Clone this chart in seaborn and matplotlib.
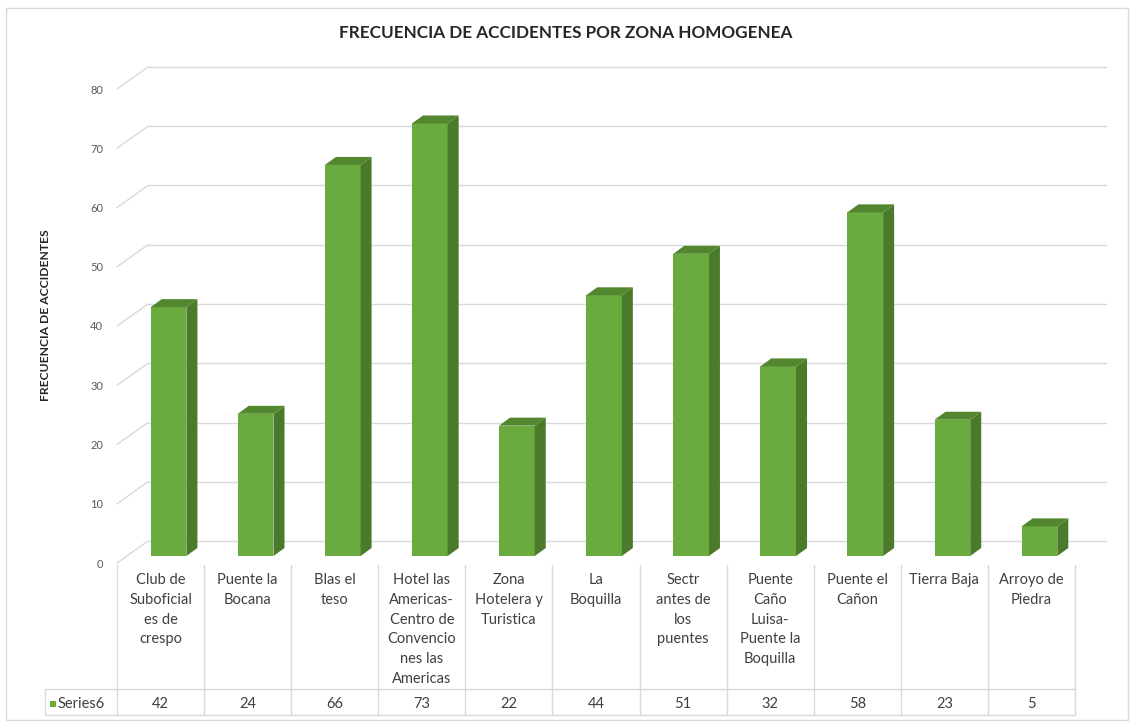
import matplotlib
matplotlib.use("Agg")
import matplotlib.pyplot as plt
import matplotlib.transforms as mtransforms
from matplotlib.patches import Polygon, Rectangle
import numpy as np
import seaborn as sns

# data
categories = ["Club de\nSuboficial\nes de\ncrespo", "Puente la\nBocana", "Blas el\nteso",
              "Hotel las\nAmericas-\nCentro de\nConvencio\nnes las\nAmericas",
              "Zona\nHotelera y\nTuristica", "La\nBoquilla", "Sectr\nantes de\nlos\npuentes",
              "Puente\nCaño\nLuisa-\nPuente la\nBoquilla", "Puente el\nCañon", "Tierra Baja",
              "Arroyo de\nPiedra"]
values = [42, 24, 66, 73, 22, 44, 51, 32, 58, 23, 5]
series_name = "Series6"
yticks = list(range(0, 90, 10))

front_c = "#6aab3f"
side_c = "#4a7a2a"
top_c = "#53872f"
grid_c = "#d9d9d9"
text_c = "#404040"

sns.set_style("white")
plt.rcParams['font.family'] = ['Lato', 'DejaVu Sans']

W, H = 1132, 723
fig = plt.figure(figsize=(W / 100, H / 100), dpi=100)
y0, y80 = 563, 89           # pixel rows of 0 and 80
x_left, x_right = 117, 1075  # table / category span
ax = fig.add_axes([x_left / W, 1 - y0 / H, (x_right - x_left) / W, (y0 - y80) / H])

sns.barplot(x=categories, y=values, color=front_c, saturation=1, width=0.41,
            ax=ax, zorder=3, linewidth=0)
ax.set_xlim(-0.5, 10.5)
ax.set_ylim(0, 80)
sns.despine(ax=ax, left=True, bottom=True)

px_x = (x_right - x_left) / 11
px_y = (y0 - y80) / 80

# 3D look: shift bars back into the box and add side / top faces
shift = ax.transData + mtransforms.ScaledTranslation(8 / 100, 7 / 100, fig.dpi_scale_trans)
ddx, ddy = 11 / px_x, 8 / px_y
for p in list(ax.patches):
    p.set_transform(shift)
    p.set_clip_on(False)
    x0 = p.get_x()
    x1 = x0 + p.get_width()
    h = p.get_height()
    side = Polygon([(x1, 0), (x1 + ddx, ddy), (x1 + ddx, h + ddy), (x1, h)],
                   closed=True, facecolor=side_c, edgecolor="none", transform=shift,
                   zorder=3, clip_on=False)
    top = Polygon([(x0, h), (x1, h), (x1 + ddx, h + ddy), (x0 + ddx, h + ddy)],
                  closed=True, facecolor=top_c, edgecolor="none", transform=shift,
                  zorder=3, clip_on=False)
    ax.add_patch(side)
    ax.add_patch(top)

# back wall gridlines with slanted connectors
back = ax.transData + mtransforms.ScaledTranslation(31 / 100, 22 / 100, fig.dpi_scale_trans)
for v in yticks:
    ax.plot([-0.5, 10.5], [v, v], transform=back, color=grid_c, lw=1, zorder=1, clip_on=False)
    ax.plot([-0.5, -0.5 + 31 / px_x], [v, v + 22 / px_y], color=grid_c, lw=1,
            zorder=1, clip_on=False)

ax.set_yticks(yticks)
ax.tick_params(axis="y", length=0, pad=10, labelsize=8, labelcolor="#595959")
ax.set_xticks([])
ax.grid(False)


# data table under the plot
def ay(ypix):
    return (y0 - ypix) / (y0 - y80)


xt = ax.get_xaxis_transform()
x_series = -0.5 - (x_left - 45) / px_x
for b in np.arange(-0.5, 11, 1):
    ax.plot([b, b], [ay(565), ay(715)], transform=xt, color=grid_c, lw=1, clip_on=False)
for yy in [689, 715]:
    ax.plot([x_series, 10.5], [ay(yy), ay(yy)], transform=xt, color=grid_c, lw=1, clip_on=False)
ax.plot([x_series, x_series], [ay(689), ay(715)], transform=xt, color=grid_c, lw=1, clip_on=False)

for i, (cat, val) in enumerate(zip(categories, values)):
    ax.text(i, ay(573), cat, transform=xt, ha="center", va="top", fontsize=10.5,
            color=text_c, linespacing=1.53)
    ax.text(i, ay(704), str(val), transform=xt, ha="center", va="center", fontsize=10.5,
            color=text_c)

ax.add_patch(Rectangle((x_series + 5 / px_x, ay(707)), 6 / px_x, ay(701) - ay(707),
                       transform=xt, facecolor=front_c, edgecolor="none", clip_on=False))
ax.text(x_series + 13 / px_x, ay(704), series_name, transform=xt, ha="left", va="center",
        fontsize=10.5, color=text_c)

fig.text(566 / W, 1 - 33 / H, "FRECUENCIA DE ACCIDENTES POR ZONA HOMOGENEA",
         ha="center", va="center", fontsize=12.3, fontweight="bold", color="#262626")
fig.text(46 / W, 1 - 315 / H, "FRECUENCIA DE ACCIDENTES", rotation=90,
         ha="center", va="center", fontsize=8.7, fontweight="bold", color="#262626")

fig.add_artist(Rectangle((6 / W, 1 - 720 / H), 1122 / W, 712 / H, transform=fig.transFigure,
                         fill=False, edgecolor=grid_c, lw=1))

fig.savefig("out.png", dpi=100)
